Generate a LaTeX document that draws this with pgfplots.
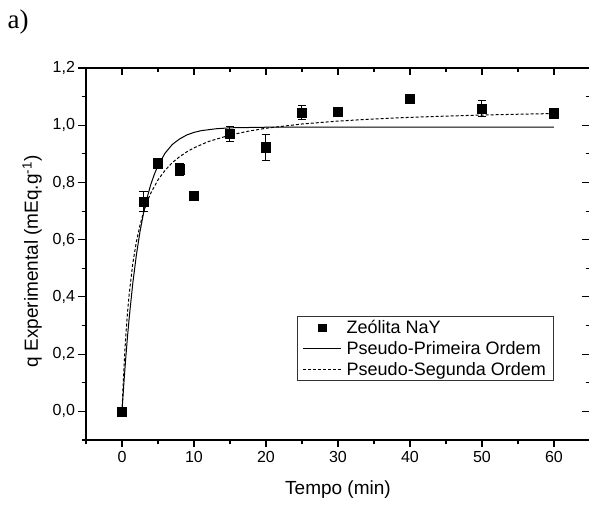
\documentclass[border=0pt]{standalone}
\usepackage{pgfplots}
\pgfplotsset{compat=1.18}
\usepackage{fontspec}
\setmainfont{Liberation Sans}
\newfontfamily\seriffont{Liberation Serif}
\begin{document}
\begin{tikzpicture}
\pgfplotsset{
  common/.style={
    width=504pt, height=372pt, scale only axis,
    xmin=-5, xmax=65, ymin=-0.1, ymax=1.2,
    xtick={0,10,20,30,40,50,60},
    ytick={0,0.2,0.4,0.6,0.8,1.0,1.2},
    minor xtick={-5,5,15,25,35,45,55,65},
    minor ytick={-0.1,0.1,0.3,0.5,0.7,0.9,1.1},
    major tick length=7.5pt, minor tick length=4pt,
    every tick/.style={black, line width=1.1pt},
    /pgf/number format/assume math mode=true,
    tick label style={font=\fontsize{16}{19}\selectfont},
  }
}
\begin{axis}[common, at={(0,0)}, anchor=south west,
  axis x line=bottom, axis y line=left, tick align=outside,
  xtick pos=left, ytick pos=left,
  axis line style={line width=1.4pt, -},
  x axis line style={-}, y axis line style={-},
  yticklabel style={/pgf/number format/.cd, use comma, fixed, fixed zerofill, precision=1},
  xlabel={Tempo (min)},
  ylabel={q Experimental (mEq.g\textsuperscript{-1})},
  every axis x label/.style={at={(axis description cs:0.5,-0.134)}, anchor=center, font=\fontsize{19}{22}\selectfont},
  every axis y label/.style={at={(axis description cs:-0.107,0.48)}, rotate=90, anchor=center, font=\fontsize{19}{22}\selectfont},
  legend style={at={(0.927,0.159)}, anchor=south east, draw=black!80, line width=0.7pt,
    font=\fontsize{18}{21}\selectfont, row sep=2pt, column sep=3pt, inner xsep=5pt, inner ysep=2pt},
  legend cell align=left,
  legend image code/.code={\draw[mark repeat=2,mark phase=2,#1] plot coordinates {(0pt,0pt) (19pt,0pt) (38pt,0pt)};},
]
\addplot[only marks, mark=square*, mark size=4.6pt, black,
  legend image post style={mark size=3.7pt},
  error bars/.cd, y dir=both, y explicit,
  error bar style={line width=1pt, black},
  error mark options={rotate=90, mark size=4.2pt, line width=1pt, black}]
coordinates {
(0,0) +- (0,0)
(3,0.733) +- (0,0.035)
(5,0.867) +- (0,0.008)
(8,0.846) +- (0,0.02)
(10,0.755) +- (0,0.005)
(15,0.969) +- (0,0.026)
(20,0.923) +- (0,0.046)
(25,1.044) +- (0,0.025)
(30,1.048) +- (0,0.015)
(40,1.093) +- (0,0.008)
(50,1.057) +- (0,0.028)
(60,1.042) +- (0,0.008)
};
\addlegendentry{Zeólita NaY}
\addplot[black, line width=1pt, no marks] coordinates {
(0,0) (0.25,0.0945) (0.5,0.180) (0.75,0.257) (1,0.327) (1.5,0.448) (2,0.547) (2.5,0.628)
(3,0.694) (3.5,0.748) (4,0.793) (4.5,0.829) (5,0.859) (6,0.903) (7,0.933) (8,0.952)
(9,0.966) (10,0.975) (11,0.981) (13,0.9875) (15,0.991) (17.5,0.992) (20,0.993)
(30,0.993) (40,0.993) (50,0.993) (60,0.993)
};
\addlegendentry{Pseudo-Primeira Ordem}
\addplot[black, line width=1pt, no marks, dash pattern=on 3pt off 2pt] coordinates {
(0,0) (0.25,0.144) (0.5,0.254) (0.75,0.341) (1,0.410) (1.5,0.517) (2,0.593) (2.5,0.651)
(3,0.6965) (3.5,0.733) (4,0.763) (5,0.809) (6,0.843) (7,0.8696) (8,0.890) (9,0.907)
(10,0.921) (12,0.943) (15,0.9655) (17.5,0.979) (20,0.9894) (25,1.0043) (30,1.0145)
(35,1.0219) (40,1.0275) (45,1.0319) (50,1.0355) (55,1.0384) (60,1.0409)
};
\addlegendentry{Pseudo-Segunda Ordem}
\end{axis}
\begin{axis}[common, at={(0,0)}, anchor=south west,
  axis x line=top, axis y line=right, tick align=inside,
  xtick pos=right, ytick pos=right,
  axis line style={line width=1.4pt, -},
  x axis line style={-}, y axis line style={-},
  xticklabels={}, yticklabels={}]
\end{axis}
\node[font=\seriffont\fontsize{27}{27}\selectfont] at (-68pt,418pt) {a)};
\pgfresetboundingbox
\useasboundingbox (-86pt,-65pt) rectangle (503pt,440pt);
\end{tikzpicture}
\end{document}
